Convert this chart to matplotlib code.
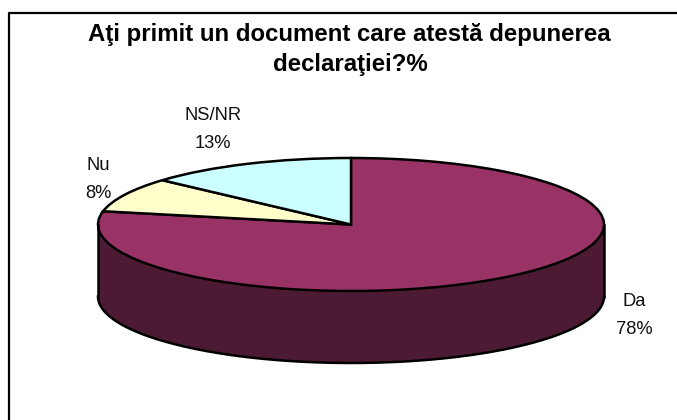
import numpy as np
import matplotlib
matplotlib.use('Agg')
import matplotlib.pyplot as plt

plt.rcParams['font.family'] = ['Liberation Sans', 'DejaVu Sans']

W, H = 677, 420

labels = ['Da', 'Nu', 'NS/NR']
values = [78.2, 8.4, 13.4]
percent_labels = ['78%', '8%', '13%']
colors = ['#993366', '#FFFFCC', '#CCFFFF']
wall_color = '#4C1B33'

fig = plt.figure(figsize=(W / 100, H / 100), dpi=100)

# frame and text live in pixel coordinates
bg = fig.add_axes([0, 0, 1, 1])
bg.set_xlim(0, W)
bg.set_ylim(H, 0)
bg.axis('off')
# only the top and left of the chart border fall inside the picture
bg.plot([9, 9, W], [H, 12.5, 12.5], color='black', lw=1.6)

bg.text(349, 34.5, 'Aţi primit un document care atestă depunerea', ha='center', va='center',
        fontsize=17.3, fontweight='bold')
bg.text(350, 64, 'declaraţiei?%', ha='center', va='center', fontsize=17.3, fontweight='bold')

label_pos = [(634, 316), (98, 180), (213, 130)]
for lab, pct, (x, y) in zip(labels, percent_labels, label_pos):
    bg.text(x, y - 14, lab, ha='center', va='center', fontsize=13.2, color='#111111')
    bg.text(x, y + 14, pct, ha='center', va='center', fontsize=13.2, color='#111111')

# the pie sits in an axes squashed so the circle becomes the top ellipse
left, right, top, bottom = 98, 604, 158, 291
wall_px = 72
depth = wall_px / ((bottom - top) / 2)
ax_bottom = bottom + wall_px + 2
ax = fig.add_axes([left / W, 1 - ax_bottom / H, (right - left) / W, (ax_bottom - top) / H])
ax.patch.set_alpha(0)

ax.pie(values, colors=colors, startangle=90, counterclock=False, radius=1,
       wedgeprops=dict(edgecolor='black', linewidth=1.8, clip_on=False), frame=False)
ax.set_aspect('auto')
ax.set_xlim(-1, 1)
ax.set_ylim(-1 - depth - 2 / 66.5, 1)
ax.axis('off')

t = np.linspace(np.pi, 2 * np.pi, 300)
x = np.cos(t)
y = np.sin(t)
ax.fill_between(x, y, y - depth, color=wall_color, zorder=0, lw=0, clip_on=False)
ax.plot(x, y - depth, color='black', lw=1.8, clip_on=False)
ax.plot([-1, -1], [0, -depth], color='black', lw=1.8, clip_on=False)
ax.plot([1, 1], [0, -depth], color='black', lw=1.8, clip_on=False)

fig.savefig('out.png', dpi=100, facecolor='white')
